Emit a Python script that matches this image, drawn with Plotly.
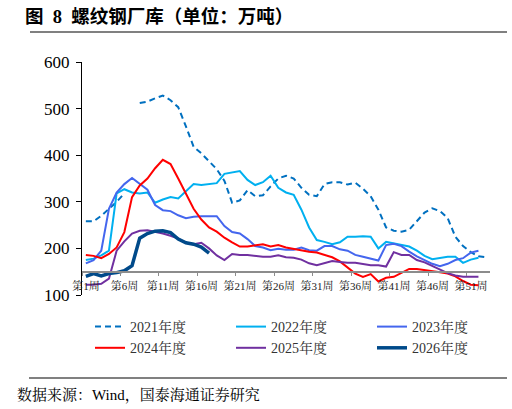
import plotly.graph_objects as go

weeks = list(range(1, 54))
tick_weeks = [1, 6, 11, 16, 21, 26, 31, 36, 41, 46, 51]
tick_labels = ["第%d周" % w for w in tick_weeks]
y_ticks = [100, 200, 300, 400, 500, 600]

s2021 = [258, 258, 270, 285, 300, 318, None, 512, 515, 522, 528, 518, 503, 462, 418, 404, 388, 370,
         345, 298, 303, 325, 312, 314, 333, 350, 356, 350, 330, 315, 312, 338, 342, 342, 337, 341,
         328, 312, 283, 245, 238, 236, 240, 258, 277, 286, 280, 265, 225, 205, 192, 183, 181]
s2022 = [175, 178, 185, 195, 318, 327, 320, 318, 320, 298, 305, 310, 307, 322, 338, 336, 338, 340,
         360, 363, 366, 347, 336, 342, 356, 330, 320, 315, 283, 245, 218, 214, 209, 213, 225, 225,
         226, 225, 200, 214, 211, 207, 204, 195, 184, 177, 180, 182, 182, 169, 176, 180]
s2023 = [168, 175, 195, 285, 320, 338, 351, 338, 326, 293, 282, 280, 271, 265, 268, 269, 269, 269,
         248, 235, 232, 220, 205, 202, 196, 199, 197, 197, 202, 196, 195, 205, 205, 198, 195, 186,
         182, 178, 174, 207, 210, 205, 193, 183, 175, 167, 162, 167, 175, 179, 191, 195]
s2024 = [186, 184, 179, 188, 202, 235, 310, 335, 350, 372, 390, 381, 350, 316, 285, 262, 245, 236,
         223, 213, 204, 204, 206, 209, 204, 207, 202, 199, 195, 193, 191, 186, 181, 172, 158, 146,
         139, 145, 129, 137, 139, 148, 156, 156, 154, 151, 149, 146, 140, 130, 122, 121]
s2025 = [122, 122, 124, 135, 195, 215, 232, 238, 239, 236, 232, 227, 221, 212, 209, 212, 200, 185,
         175, 188, 186, 186, 184, 182, 182, 185, 181, 180, 176, 168, 164, 168, 173, 171, 169, 169,
         166, 164, 164, 161, 192, 186, 186, 175, 170, 162, 155, 147, 142, 139, 139, 139]
s2026 = [140, 146, 141, 146, 148, 152, 163, 222, 232, 237, 238, 234, 220, 212, 209, 203, 190]

series = [
    ("2021年度", s2021, "#0070C0", 2, "6px,4px", "legend"),
    ("2022年度", s2022, "#00B0F0", 2, "solid", "legend2"),
    ("2023年度", s2023, "#4466EE", 2, "solid", "legend3"),
    ("2024年度", s2024, "#FF0000", 2, "solid", "legend"),
    ("2025年度", s2025, "#7030A0", 2, "solid", "legend2"),
    ("2026年度", s2026, "#004A8A", 3.5, "solid", "legend3"),
]

W, H = 512, 409
L, R, T, B = 82, 22, 62, 114
PW, PH = W - L - R, H - T - B

def px(x):
    return (x - L) / PW

def py(y):
    return (H - B - y) / PH

SERIF = "Times New Roman, Liberation Serif, Noto Serif CJK SC, Noto Sans CJK SC, serif"

fig = go.Figure()
for name, vals, color, width, dash, lg in series:
    fig.add_trace(go.Scatter(
        x=weeks[:len(vals)], y=vals, name=name, mode="lines", legend=lg,
        line=dict(color=color, width=width, dash=dash), connectgaps=False,
    ))

def legend_box(xpix):
    return dict(orientation="v", x=px(xpix), xanchor="left", y=py(311), yanchor="top",
                bgcolor="rgba(0,0,0,0)", font=dict(size=14, family=SERIF, color="#333333"),
                tracegroupgap=0, traceorder="normal")

fig.update_layout(
    width=W, height=H, margin=dict(l=L, r=R, t=T, b=B),
    paper_bgcolor="white", plot_bgcolor="white",
    font=dict(family=SERIF, color="#000000"),
    title=dict(text="<b>图\u00a0\u00a08\u00a0\u00a0螺纹钢厂库（单位：万吨）</b>", x=25 / W, xanchor="left",
               y=1 - 17 / H, yanchor="middle", yref="container",
               font=dict(size=18.5, family="Liberation Serif, Noto Sans CJK SC", color="#000000")),
    xaxis=dict(range=[0.5, 53.5], anchor="free", position=0.1,
               tickmode="array", tickvals=[w - 0.5 for w in tick_weeks], ticktext=tick_labels,
               ticklabelshift=4, showline=True, linecolor="#8C8C8C", linewidth=1.5,
               ticks="outside", ticklen=4, tickcolor="#8C8C8C", tickwidth=1,
               showgrid=False, zeroline=False,
               tickfont=dict(size=11, family=SERIF, color="#222222")),
    yaxis=dict(range=[100, 600], tickvals=y_ticks, showline=True, linecolor="#000000",
               linewidth=1.2, ticks="outside", ticklen=5, tickcolor="#000000",
               showgrid=False, zeroline=False, ticklabelstandoff=3,
               tickfont=dict(size=17, family=SERIF, color="#000000")),
    legend=legend_box(90),
    legend2=legend_box(231),
    legend3=legend_box(372),
    showlegend=True,
)

fig.add_shape(type="line", xref="paper", yref="paper", x0=px(30), x1=px(507), y0=py(32), y1=py(32),
              line=dict(color="#808080", width=2))
fig.add_shape(type="line", xref="paper", yref="paper", x0=px(29), x1=px(507), y0=py(378), y1=py(378),
              line=dict(color="#808080", width=2))
fig.add_annotation(text="数据来源：Wind，国泰海通证券研究", xref="paper", yref="paper",
                   x=px(15), y=py(395), xanchor="left", yanchor="middle", showarrow=False,
                   font=dict(size=15, family=SERIF, color="#000000"))

fig.write_html("out.html")
